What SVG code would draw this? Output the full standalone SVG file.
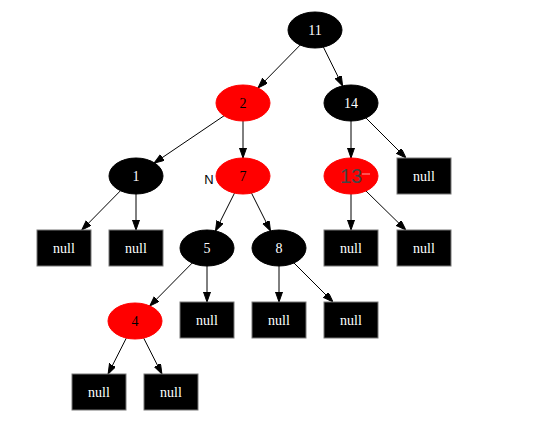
<svg xmlns="http://www.w3.org/2000/svg" width="546" height="426" viewBox="0 0 546 426">
<defs>
<marker id="ah" markerUnits="userSpaceOnUse" markerWidth="10" markerHeight="8" refX="10" refY="3.5" orient="auto">
<path d="M0,0 L10,3.5 L0,7 z" fill="#000" stroke="#000" stroke-width="1"/>
</marker>
<style>
.blk ellipse{fill:#000;stroke:#000}
.red ellipse{fill:#ff0000;stroke:#ff0000}
.nul rect{fill:#000;stroke:#777;stroke-width:1}
text{font-family:"Liberation Serif","Times New Roman",serif;font-size:14px;text-anchor:middle}
.blk text,.nul text{fill:#fff}
.red text{fill:#000}
#edges line{stroke:#000;stroke-width:1;marker-end:url(#ah)}
</style>
</defs>
<rect width="546" height="426" fill="#fff"/>
<g id="edges">
<line x1="300.2" y1="45" x2="258" y2="88"/>
<line x1="323.4" y1="47.1" x2="342.6" y2="85.9"/>
<line x1="224" y1="115.8" x2="154" y2="163.2"/>
<line x1="243" y1="121" x2="243" y2="158"/>
<line x1="351" y1="121" x2="351" y2="158"/>
<line x1="366" y1="118" x2="406" y2="158"/>
<line x1="120.2" y1="191" x2="81.8" y2="230"/>
<line x1="136" y1="194" x2="136" y2="230"/>
<line x1="234.5" y1="193.1" x2="215.5" y2="230.9"/>
<line x1="251.5" y1="193.1" x2="270.5" y2="230.9"/>
<line x1="351" y1="194" x2="351" y2="230"/>
<line x1="366" y1="191" x2="405.8" y2="230"/>
<line x1="192.2" y1="263" x2="149.8" y2="306"/>
<line x1="207" y1="266" x2="207" y2="302"/>
<line x1="279" y1="266" x2="279" y2="302"/>
<line x1="294" y1="263" x2="333" y2="302"/>
<line x1="126.3" y1="338.1" x2="108.1" y2="374"/>
<line x1="143.7" y1="338.1" x2="161.9" y2="374"/>
</g>
<g id="n11" class="blk"><ellipse cx="315" cy="30" rx="27" ry="18"/><text x="315" y="35">11</text></g>
<g id="n2" class="red"><ellipse cx="243" cy="103" rx="27" ry="18"/><text x="243" y="108">2</text></g>
<g id="n14" class="blk"><ellipse cx="351" cy="103" rx="27" ry="18"/><text x="351" y="108">14</text></g>
<g id="n1" class="blk"><ellipse cx="136" cy="176" rx="27" ry="18"/><text x="136" y="181">1</text></g>
<g id="n7" class="red"><ellipse cx="243" cy="176" rx="27" ry="18"/><text x="243" y="181">7</text>
<text x="209" y="184" style="font-family:'Liberation Sans',Arial,sans-serif;font-size:13px;fill:#000">N</text></g>
<g id="n13" class="red"><ellipse cx="351" cy="176" rx="27" ry="18"/>
<line x1="362" y1="174" x2="370" y2="174" stroke="#ff5050" stroke-width="2"/>
<text x="351" y="183" style="font-family:'Liberation Sans',Arial,sans-serif;font-size:20px;fill:#444">13</text></g>
<g id="null14" class="nul"><rect x="397" y="158" width="54" height="36"/><text x="424" y="181">null</text></g>
<g id="null1a" class="nul"><rect x="37" y="230" width="54" height="36"/><text x="64" y="253">null</text></g>
<g id="null1b" class="nul"><rect x="109" y="230" width="54" height="36"/><text x="136" y="253">null</text></g>
<g id="n5" class="blk"><ellipse cx="207" cy="248" rx="27" ry="18"/><text x="207" y="253">5</text></g>
<g id="n8" class="blk"><ellipse cx="279" cy="248" rx="27" ry="18"/><text x="279" y="253">8</text></g>
<g id="null13a" class="nul"><rect x="324" y="230" width="54" height="36"/><text x="351" y="253">null</text></g>
<g id="null13b" class="nul"><rect x="397" y="230" width="54" height="36"/><text x="424" y="253">null</text></g>
<g id="n4" class="red"><ellipse cx="135" cy="321" rx="27" ry="18"/><text x="135" y="326">4</text></g>
<g id="null5" class="nul"><rect x="180" y="302" width="54" height="36"/><text x="207" y="325">null</text></g>
<g id="null8a" class="nul"><rect x="252" y="302" width="54" height="36"/><text x="279" y="325">null</text></g>
<g id="null8b" class="nul"><rect x="324" y="302" width="54" height="36"/><text x="351" y="325">null</text></g>
<g id="null4a" class="nul"><rect x="72" y="374" width="54" height="36"/><text x="99" y="397">null</text></g>
<g id="null4b" class="nul"><rect x="144" y="374" width="54" height="36"/><text x="171" y="397">null</text></g>
</svg>
